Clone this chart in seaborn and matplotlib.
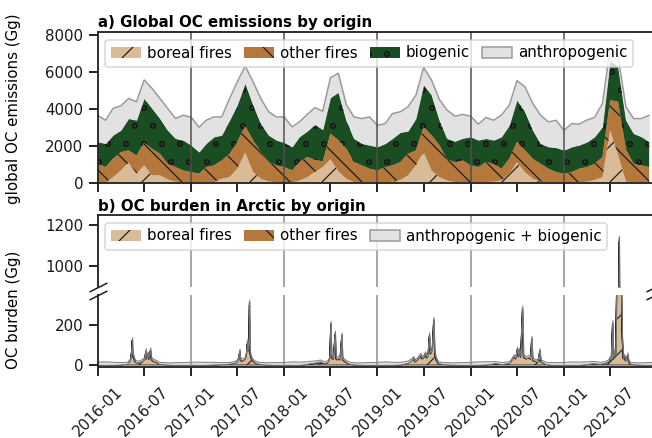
import numpy as np
import pandas as pd
import matplotlib
matplotlib.use('Agg')
import matplotlib.pyplot as plt
import matplotlib.dates as mdates
import matplotlib.hatch as mhatch
from matplotlib.patches import Patch
import seaborn as sns

sns.set_theme(style='ticks')
plt.rcParams['font.family'] = ['DejaVu Sans']
plt.rcParams.update({
    'font.size': 10, 'xtick.labelsize': 10, 'ytick.labelsize': 10,
    'axes.linewidth': 1.25, 'axes.edgecolor': '0.15', 'hatch.linewidth': 0.8,
    'xtick.major.size': 6, 'ytick.major.size': 6,
    'xtick.major.width': 1.25, 'ytick.major.width': 1.25,
    'xtick.color': '0.1', 'ytick.color': '0.1', 'text.color': 'black',
})
# smaller open circles for the biogenic hatch
mhatch.SmallCircles.size = 0.13

# ---- panel a: monthly global OC emissions (Gg), Jan 2016 - Dec 2021
boreal_fires_em = [
    30, 30, 300, 670, 1090, 490, 940, 400, 400, 180, 60, 30,
    20, 20, 30, 40, 220, 310, 760, 1630, 580, 220, 70, 30,
    20, 20, 120, 300, 580, 850, 1270, 620, 220, 40, 30, 20,
    20, 20, 60, 150, 400, 940, 1670, 670, 300, 120, 40, 30,
    30, 30, 40, 60, 130, 490, 1100, 580, 220, 60, 30, 20,
    20, 20, 30, 60, 150, 300, 2840, 1500, 60, 30, 20, 20,
]
other_fires_em = [
    1000, 820, 1000, 990, 660, 990, 1230, 1440, 1170, 850, 790, 640,
    560, 470, 820, 900, 990, 1260, 1450, 1440, 1720, 1440, 1050, 910,
    830, 650, 1000, 1090, 670, 300, 1390, 1680, 1630, 1080, 910, 740,
    650, 830, 880, 970, 1170, 810, 1350, 1900, 1730, 1130, 1080, 1180,
    910, 820, 1080, 970, 630, 810, 1110, 1180, 1080, 970, 730, 560,
    470, 560, 730, 790, 880, 1090, 1630, 2880, 1740, 1000, 920, 830,
]
biogenic_em = [
    1180, 1270, 1270, 1180, 1720, 1900, 2390, 2180, 1900, 1810, 1540, 1630,
    1450, 1170, 1270, 1540, 1360, 1810, 1990, 2310, 1900, 1540, 1450, 1360,
    1320, 1270, 1360, 1400, 1900, 1720, 1940, 2590, 1530, 1270, 1180, 1270,
    1270, 1270, 1450, 1600, 1220, 1720, 2270, 2180, 1350, 1140, 1120, 1190,
    1540, 1450, 1270, 1270, 1720, 1810, 2260, 2080, 1540, 1090, 1180, 1320,
    1270, 1360, 1270, 1350, 1450, 1630, 2130, 1900, 1580, 1630, 1540, 1360,
]
anthropogenic_em = [
    1440, 1260, 1450, 1320, 1090, 1000, 1000, 1080, 1090, 1180, 1090, 1350,
    1520, 1340, 1260, 1080, 990, 1180, 1260, 930, 1260, 1360, 1270, 1260,
    1390, 1080, 810, 900, 910, 1000, 1080, 1030, 850, 1170, 1350, 1530,
    1170, 1080, 1350, 1120, 1320, 1270, 940, 810, 1120, 1540, 1360, 1300,
    1120, 870, 1140, 1080, 1180, 1090, 1050, 1350, 1450, 1540, 1350, 1480,
    1080, 1260, 1140, 1190, 1050, 1270, 700, 520, 720, 810, 990, 1440,
]

# ---- panel b: Arctic OC burden (Gg)
burden_dates = [
    '2016-01-01', '2016-02-01', '2016-03-01', '2016-04-01', '2016-04-25', '2016-05-08', '2016-05-13',
    '2016-05-15', '2016-05-17', '2016-05-21', '2016-05-24', '2016-05-28', '2016-06-10', '2016-06-25',
    '2016-07-03', '2016-07-07', '2016-07-10', '2016-07-15', '2016-07-19', '2016-07-25', '2016-07-29',
    '2016-08-05', '2016-08-19', '2016-08-25', '2016-09-14', '2016-10-01', '2016-11-01', '2016-12-01',
    '2017-01-01', '2017-02-01', '2017-03-01', '2017-04-01', '2017-05-01', '2017-06-01', '2017-06-20',
    '2017-07-01', '2017-07-06', '2017-07-10', '2017-07-13', '2017-07-20', '2017-08-01', '2017-08-06',
    '2017-08-09', '2017-08-12', '2017-08-15', '2017-08-17', '2017-08-19', '2017-08-22', '2017-08-26',
    '2017-09-05', '2017-09-20', '2017-10-15', '2017-11-15', '2017-12-15',
    '2018-01-01', '2018-02-01', '2018-03-01', '2018-03-28', '2018-04-10', '2018-04-25', '2018-05-10',
    '2018-05-21', '2018-06-05', '2018-06-20', '2018-06-28', '2018-07-02', '2018-07-05', '2018-07-12',
    '2018-07-19', '2018-07-22', '2018-07-27', '2018-08-01', '2018-08-07', '2018-08-14', '2018-08-17',
    '2018-08-27', '2018-09-09', '2018-09-25', '2018-10-15', '2018-11-15', '2018-12-15',
    '2019-01-01', '2019-02-01', '2019-03-01', '2019-04-01', '2019-04-14', '2019-05-01', '2019-05-15',
    '2019-05-22', '2019-05-28', '2019-06-05', '2019-06-18', '2019-06-25', '2019-07-01', '2019-07-07',
    '2019-07-12', '2019-07-18', '2019-07-23', '2019-07-27', '2019-07-31', '2019-08-04', '2019-08-09',
    '2019-08-13', '2019-08-18', '2019-08-28', '2019-09-15', '2019-10-15', '2019-11-15', '2019-12-15',
    '2020-01-01', '2020-02-01', '2020-03-01', '2020-03-26', '2020-04-05', '2020-04-15', '2020-05-01',
    '2020-06-01', '2020-06-19', '2020-06-26', '2020-07-02', '2020-07-06', '2020-07-09', '2020-07-15',
    '2020-07-22', '2020-07-26', '2020-08-05', '2020-08-15', '2020-08-23', '2020-08-27', '2020-08-31',
    '2020-09-10', '2020-09-20', '2020-09-28', '2020-10-02', '2020-10-08', '2020-10-20', '2020-11-15',
    '2020-12-15',
    '2021-01-01', '2021-02-01', '2021-03-01', '2021-04-01', '2021-04-22', '2021-05-05', '2021-05-20',
    '2021-06-10', '2021-06-25', '2021-06-29', '2021-07-05', '2021-07-10', '2021-07-14', '2021-07-18',
    '2021-07-22', '2021-07-26', '2021-07-30', '2021-08-03', '2021-08-05', '2021-08-07', '2021-08-11',
    '2021-08-14', '2021-08-17', '2021-08-21', '2021-08-25', '2021-08-30', '2021-09-03', '2021-09-07',
    '2021-09-11', '2021-09-16', '2021-10-01', '2021-10-20', '2021-11-15', '2021-12-01', '2021-12-31',
]
burden_boreal = [
    0, 0, 0, 1, 3, 20, 70, 120, 40, 35, 20, 12, 10, 18,
    30, 62, 30, 50, 28, 68, 25, 18, 12, 5, 3, 1, 0, 0,
    0, 0, 0, 1, 2, 4, 8, 15, 30, 62, 22, 18, 28, 55,
    105, 70, 110, 300, 60, 40, 25, 12, 5, 2, 0, 0,
    0, 0, 0, 2, 5, 6, 8, 12, 6, 10, 30, 195, 35, 28,
    150, 30, 25, 30, 25, 140, 25, 15, 5, 2, 1, 0, 0,
    0, 0, 0, 1, 3, 8, 20, 30, 15, 22, 42, 30, 35, 50,
    35, 40, 140, 55, 60, 80, 215, 60, 25, 6, 3, 1, 0, 0,
    0, 0, 1, 3, 5, 4, 2, 6, 38, 30, 75, 40, 68, 38,
    270, 38, 30, 35, 28, 125, 22, 18, 12, 65, 15, 12, 3, 0, 0,
    0, 0, 0, 2, 5, 4, 3, 6, 15, 28, 20, 200, 30, 60,
    40, 370, 520, 750, 1120, 700, 480, 360, 130, 30, 40, 20, 25, 45,
    15, 5, 2, 1, 0, 0, 0,
]
burden_other = [
    1, 1, 1, 2, 3, 5, 6, 5, 5, 6, 4, 3, 3, 4,
    5, 8, 6, 6, 5, 7, 5, 4, 3, 2, 2, 1, 1, 1,
    1, 1, 1, 2, 2, 3, 4, 5, 6, 8, 5, 5, 6, 8,
    12, 8, 10, 15, 8, 6, 5, 3, 2, 1, 1, 1,
    1, 1, 1, 3, 4, 5, 6, 6, 4, 5, 6, 12, 6, 5,
    10, 5, 5, 6, 5, 10, 5, 4, 3, 2, 1, 1, 1,
    1, 1, 1, 2, 3, 4, 5, 6, 5, 6, 8, 6, 6, 8,
    6, 6, 10, 8, 6, 8, 12, 6, 5, 3, 2, 1, 1, 1,
    1, 1, 2, 4, 5, 4, 3, 4, 6, 5, 7, 6, 7, 6,
    14, 6, 5, 5, 5, 8, 4, 4, 3, 7, 3, 3, 2, 1, 1,
    1, 1, 1, 3, 4, 4, 3, 4, 5, 6, 5, 12, 6, 7,
    6, 10, 12, 15, 18, 14, 12, 10, 8, 5, 6, 4, 5, 7,
    4, 3, 2, 1, 1, 1, 1,
]
burden_anthro_bio = [
    16, 17, 15, 12, 10, 10, 11, 13, 10, 10, 9, 9, 9, 9,
    10, 14, 10, 12, 10, 14, 10, 9, 9, 9, 10, 11, 13, 14,
    15, 16, 15, 13, 10, 9, 9, 9, 10, 12, 10, 9, 9, 10,
    13, 10, 11, 13, 10, 9, 9, 9, 10, 11, 13, 14,
    15, 17, 16, 13, 12, 11, 10, 10, 9, 9, 10, 14, 10, 10,
    12, 10, 10, 10, 10, 13, 10, 9, 10, 10, 11, 13, 14,
    15, 17, 15, 13, 12, 11, 10, 9, 9, 9, 11, 9, 9, 11,
    10, 10, 14, 10, 10, 11, 14, 10, 10, 9, 10, 11, 13, 14,
    15, 17, 16, 11, 10, 10, 10, 9, 9, 9, 11, 10, 10, 10,
    14, 10, 9, 10, 10, 13, 9, 9, 9, 12, 9, 10, 11, 13, 14,
    15, 17, 16, 13, 11, 11, 10, 9, 9, 10, 9, 13, 10, 10,
    9, 12, 12, 12, 12, 12, 12, 12, 10, 9, 9, 9, 9, 11,
    9, 9, 10, 11, 13, 14, 15,
]

C_BOREAL = '#d9bb98'
C_OTHER = '#b5783c'
C_BIO = '#1b4d22'
C_ANTH = '#e2e2e2'

months = pd.date_range('2016-01-01', periods=72, freq='MS')
lev1 = np.array(boreal_fires_em)
lev2 = lev1 + np.array(other_fires_em)
lev3 = lev2 + np.array(biogenic_em)
lev4 = lev3 + np.array(anthropogenic_em)

bdates = pd.to_datetime(burden_dates)
b1 = np.array(burden_boreal)
b2 = b1 + np.array(burden_other)
b3 = b2 + np.array(burden_anthro_bio)

W, H = 652, 438
fig = plt.figure(figsize=(W / 108, H / 108), dpi=108)
left = 97.7 / W
width = (655.3 - 97.7) / W   # right edge falls just outside the picture
ax_a = fig.add_axes([left, 1 - 182.8 / H, width, (182.8 - 32) / H])
ax_hi = fig.add_axes([left, 1 - 287 / H, width, 72 / H], sharex=ax_a)
ax_lo = fig.add_axes([left, 1 - 367 / H, width, 72 / H], sharex=ax_a)

xmin, xmax = pd.Timestamp('2016-01-01'), pd.Timestamp('2021-12-25')
years = [pd.Timestamp(f'{y}-01-01') for y in range(2017, 2022)]

# panel a
ax_a.fill_between(months, 0, lev1, facecolor=C_BOREAL, edgecolor='k', lw=0, hatch='/')
ax_a.fill_between(months, lev1, lev2, facecolor=C_OTHER, edgecolor='k', lw=0, hatch='\\')
ax_a.fill_between(months, lev2, lev3, facecolor=C_BIO, edgecolor='k', lw=0, hatch='o')
ax_a.fill_between(months, lev3, lev4, facecolor=C_ANTH, edgecolor='k', lw=0)
sns.lineplot(x=months, y=lev4, ax=ax_a, color='0.6', linewidth=1, legend=False)
for d in years:
    ax_a.axvline(d, color='0.3', lw=1, zorder=2.5)
ax_a.set_ylim(0, 8150)
ax_a.set_yticks([0, 2000, 4000, 6000, 8000])
ax_a.set_xlabel('')
ax_a.set_ylabel('')
ax_a.tick_params(labelbottom=False)
ax_a.set_title('a) Global OC emissions by origin', loc='left', fontsize=10,
               fontweight='bold', pad=3)
handles_a = [
    Patch(facecolor=C_BOREAL, edgecolor='k', lw=0, hatch='/', label='boreal fires'),
    Patch(facecolor=C_OTHER, edgecolor='k', lw=0, hatch='\\', label='other fires'),
    Patch(facecolor=C_BIO, edgecolor='k', lw=0, hatch='o', label='biogenic'),
    Patch(facecolor=C_ANTH, edgecolor='0.6', lw=1, label='anthropogenic'),
]
ax_a.legend(handles=handles_a, loc='upper left', ncol=4, fontsize=10, frameon=True,
            framealpha=0.8, edgecolor='0.8', handletextpad=0.4, columnspacing=0.8)

# panel b (broken y axis)
for ax in (ax_hi, ax_lo):
    ax.fill_between(bdates, 0, b1, facecolor=C_BOREAL, edgecolor='0.15', lw=0.6, hatch='/')
    ax.fill_between(bdates, b1, b2, facecolor=C_OTHER, edgecolor='0.15', lw=0.6, hatch='\\')
    ax.fill_between(bdates, b2, b3, facecolor=C_ANTH, edgecolor='0.45', lw=0.6)
    for d in years:
        ax.axvline(d, color='0.55', lw=1, zorder=2.5)

ax_hi.set_ylim(900, 1250)
ax_hi.set_yticks([1000, 1200])
ax_hi.spines['bottom'].set_visible(False)
ax_hi.tick_params(bottom=False, labelbottom=False)
ax_hi.set_title('b) OC burden in Arctic by origin', loc='left', fontsize=10,
                fontweight='bold', pad=3)
handles_b = [
    Patch(facecolor=C_BOREAL, edgecolor='k', lw=0, hatch='/', label='boreal fires'),
    Patch(facecolor=C_OTHER, edgecolor='k', lw=0, hatch='\\', label='other fires'),
    Patch(facecolor=C_ANTH, edgecolor='0.6', lw=1, label='anthropogenic + biogenic'),
]
ax_hi.legend(handles=handles_b, loc='upper left', ncol=3, fontsize=10, frameon=True,
             framealpha=0.8, edgecolor='0.8', handletextpad=0.4, columnspacing=0.8)

ax_lo.set_ylim(-10, 350)
ax_lo.set_yticks([0, 200])
ax_lo.spines['top'].set_visible(False)

kw = dict(marker=[(-1, -0.5), (1, 0.5)], markersize=12, linestyle='none',
          color='k', mec='k', mew=1, clip_on=False)
ax_hi.plot([0, 1], [0, 0], transform=ax_hi.transAxes, **kw)
ax_lo.plot([0, 1], [1, 1], transform=ax_lo.transAxes, **kw)

ax_lo.set_xlim(xmin, xmax)
ax_lo.xaxis.set_major_locator(mdates.MonthLocator(bymonth=[1, 7]))
ax_lo.xaxis.set_major_formatter(mdates.DateFormatter('%Y-%m'))
ax_lo.tick_params(axis='x', pad=5.5)
plt.setp(ax_lo.get_xticklabels(), rotation=45, ha='center')

fig.text(14 / W, 1 - 109 / H, 'global OC emissions (Gg)', rotation=90,
         ha='center', va='center', fontsize=10)
fig.text(14 / W, 1 - 310 / H, 'OC burden (Gg)', rotation=90,
         ha='center', va='center', fontsize=10)

fig.savefig('out.png', dpi=108)
